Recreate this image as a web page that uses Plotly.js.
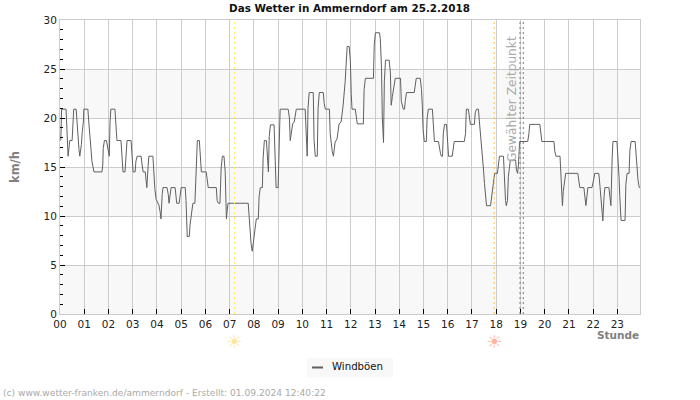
<!DOCTYPE html>
<html><head><meta charset="utf-8">
<script src="https://cdn.plot.ly/plotly-3.0.1.min.js"></script>
<style>html,body{margin:0;padding:0;background:#fff}</style></head>
<body><div id="chart" style="width:700px;height:400px"></div>
<script>
const chartTitle = 'Das Wetter in Ammerndorf am 25.2.2018';
const seriesName = 'Windböen';
const hourLabels = ['00','01','02','03','04','05','06','07','08','09','10','11','12','13','14','15','16','17','18','19','20','21','22','23'];
const sunriseMinute = 432, sunsetMinute = 1075, selectedMinutes = [1139, 1147];
const minutes = [2,4,15,16,19,20,23,24,30,32,34,40,42,44,47,49,53,55,58,59,69,72,74,77,79,81,84,104,106,107,110,115,117,120,122,124,126,136,139,141,151,154,156,161,164,166,176,178,181,186,188,191,201,203,206,211,213,215,218,220,230,233,235,238,243,245,248,250,253,255,265,268,270,273,275,285,
286,289,295,300,310,312,315,320,322,325,327,329,334,335,338,340,345,348,350,362,364,367,387,389,392,396,399,402,406,409,411,412,414,416,466,468,471,473,476,478,481,483,486,491,493,496,501,503,506,511,513,516,518,521,530,533,535,540,543,545,565,568,570,573,575,
576,580,582,585,607,608,610,612,614,617,627,629,632,637,639,642,652,654,657,667,669,672,674,677,679,681,686,689,691,696,699,701,706,709,711,716,719,721,723,731,734,736,751,753,756,776,778,781,791,793,796,798,801,803,806,815,818,820,823,825,828,830,843,845,850,853,855,858,
877,880,882,892,895,897,899,902,907,909,912,922,924,927,937,939,942,944,947,949,952,957,959,962,971,974,976,1001,1004,1006,1011,1014,1016,1026,1028,1031,1036,1038,1041,1046,1048,1051,1053,1056,1066,1068,1071,1073,1076,1083,1086,1088,1098,1100,1103,1105,1108,1110,1113,1115,1128,1130,1133,1135,1138,
1140,1158,1161,1163,1188,1190,1193,1223,1225,1228,1238,1240,1243,1244,1246,1250,1252,1282,1285,1287,1297,1300,1302,1305,1307,1317,1319,1322,1324,1334,1337,1339,1342,1344,1347,1349,1359,1362,1364,1367,1369,1379,1381,1384,1386,1389,1399,1401,1404,1409,1411,1414,1424,1426,1429,1431,1434,1436];
const gusts = [17.7,20.9,20.9,19.7,17.7,16.1,17.2,17.7,17.7,19,20.9,20.9,19.7,17.7,16.8,16.1,17.3,18.5,19.7,20.9,20.9,19.2,17.7,16.7,15.6,15,14.5,14.5,15.3,16.9,17.7,17.7,17.1,16.5,16.1,19.7,20.9,20.9,18.5,17.7,17.7,16,14.5,14.5,16.9,17.7,17.7,16,14.5,14.5,15.6,16.1,16.1,15.3,14.5,14.5,13.8,12.9,15,16.1,16.1,13.8,12.7,11.7,11.3,11.1,10.4,9.7,12.2,12.9,12.9,12.2,11.3,12.2,12.9,12.9,
12.5,11.3,11.3,12.9,12.9,11.6,7.9,7.9,9.1,9.9,10.8,11.3,11.3,12.7,15.9,17.7,17.7,15.9,14.5,14.5,13.7,12.9,12.9,11.6,11.3,11.3,14.9,16.1,16.1,14.5,11.3,9.7,10.6,11.3,11.3,9.9,8.75,7.2,6.4,7.2,8.2,9.1,9.7,9.7,12,12.9,12.9,16,17.7,17.7,16,14.5,18.1,19.3,19.3,14.9,12.9,12.9,19,20.9,20.9,20,17.7,18.4,19,
19.4,19.6,20.3,20.9,20.9,19.6,17.8,16.1,21,22.6,22.6,17.8,16.1,16.1,21,22.6,22.6,21.5,20.9,20.9,18.4,17.25,16.6,16.1,17.1,17.5,17.9,18.95,19.4,19.6,20.5,21.3,23.7,26.1,27.3,27.3,25.75,22.5,20.9,20.9,20,19.4,19.4,22.9,24.05,24.05,27.45,28.7,28.7,28.1,25.1,20.1,17.5,23.7,25.9,25.9,24.6,21.3,22.2,22.9,23.6,24.05,24.05,21.7,20.9,20.9,21.8,22.6,
22.6,23.4,24.05,24.05,22.9,21.3,18.8,17.6,17.6,20,20.9,20.9,19.1,17.6,17.6,16.9,16.4,16.1,16.1,18.4,19.35,19.35,17.6,16.1,16.1,16.9,17.6,17.6,18.4,20.9,20.9,20,19.35,19.35,20.5,20.9,20.9,19.8,18.4,16.7,15,13.3,12.3,11.05,11.05,11.8,12.8,13.7,14.35,14.35,15.7,16.1,16.1,13.7,11.6,11.05,11.6,14,15,15.7,15.7,14.7,14.35,15.2,17.6,
17.6,17.6,18.44,19.35,19.35,18.27,17.6,17.6,16.6,16.1,16.1,14.4,12.3,11.06,12.5,13.85,14.35,14.35,13.7,12.9,12.9,11.8,11.06,12.15,12.9,12.9,13.5,13.85,14.35,14.35,13,11.9,10.6,9.5,12,12.9,12.9,11.9,11.06,15.9,17.6,17.6,16.4,14,12,9.55,9.55,13.2,14.35,14.35,16.7,17.6,17.6,16.4,15.4,13.7,12.9,12.9];

const FONT = '"DejaVu Sans", sans-serif';
const GRID = '#cccccc';
const bands = [[0,5],[10,15],[20,25]];
const hourTicks = hourLabels.map((_, i) => i * 60);
const vline = (x, color) => ({type:'line', xref:'x', yref:'y', x0:x, x1:x, y0:0, y1:30,
  line:{color, width:1, dash:'2px,3px'}, layer:'above'});
const shapes = [
  ...bands.map(b => ({type:'rect', xref:'paper', yref:'y', x0:0, x1:1, y0:b[0], y1:b[1],
    fillcolor:'#f8f8f8', line:{width:0}, layer:'below'})),
  vline(sunriseMinute, '#ffee55'), vline(sunsetMinute, '#ffc04d'),
  ...selectedMinutes.map(m => vline(m, '#777777')),
  {type:'rect', xref:'paper', yref:'paper', x0:(307-60)/580, x1:(393-60)/580, y0:(314-377)/294, y1:(314-358)/294,
    fillcolor:'#f8f8f8', line:{width:0}, layer:'above'},
  {type:'line', xref:'paper', yref:'paper', x0:(312-60)/580, x1:(323-60)/580, y0:(314-367.5)/294, y1:(314-367.5)/294,
    line:{color:'#606060', width:2}, layer:'above'}
];
const px = x => (x-60)/580, py = y => (314-y)/294;
const note = (text, x, y, size, color, extra) => Object.assign({text, xref:'paper', yref:'paper', x:px(x), y:py(y),
  showarrow:false, font:{family:FONT, size, color}, xanchor:'left', yanchor:'middle'}, extra||{});
const annotations = [
  note('<b>Stunde</b>', 641, 334.5, 10.5, '#808080', {xanchor:'right'}),
  note('Gewählter Zeitpunkt', 511.5, 99.5, 12.2, '#aaaaaa', {textangle:-90, xanchor:'center'}),
  note('☀', 234, 341, 18, '#fde79a', {xanchor:'center'}),
  note('☀', 493.5, 341, 18, '#ffb4a0', {xanchor:'center'}),
  note(seriesName, 330, 366, 10.2, '#111111'),
  note('(c) www.wetter-franken.de/ammerndorf - Erstellt: 01.09.2024 12:40:22', 1, 393, 9.1, '#aaaaaa')
];
Plotly.newPlot('chart', [{
  type:'scatter', mode:'lines', name:seriesName, x:minutes, y:gusts,
  line:{color:'#606060', width:1, shape:'linear'}, hoverinfo:'x+y'
}], {
  width:700, height:400, showlegend:false,
  margin:{l:60, r:60, t:20, b:86, pad:0},
  paper_bgcolor:'#fff', plot_bgcolor:'#fff',
  font:{family:FONT, size:10.5, color:'#222'},
  title:{text:'<b>'+chartTitle+'</b>', font:{family:FONT, size:10.4, color:'#111'}, x:349.5/700, xanchor:'center', y:1-8/400, yanchor:'middle'},
  xaxis:{range:[0,1436], tickmode:'array', tickvals:hourTicks, ticktext:hourLabels, ticks:'inside', ticklen:5, tickcolor:'#000', tickwidth:1,
    showgrid:true, gridcolor:GRID, gridwidth:1, zeroline:false, showline:true, linecolor:GRID, linewidth:1, mirror:true,
    tickfont:{family:FONT, size:10.5, color:'#222'}, fixedrange:true},
  yaxis:{range:[0,30], tickmode:'linear', tick0:0, dtick:5, ticks:'inside', ticklen:5, tickcolor:'#000', tickwidth:1,
    minor:{dtick:1, ticks:'inside', ticklen:3, tickcolor:'#000', tickwidth:1, showgrid:false},
    showgrid:true, gridcolor:GRID, gridwidth:1, zeroline:false, showline:true, linecolor:GRID, linewidth:1, mirror:true,
    tickfont:{family:FONT, size:10.5, color:'#222'}, fixedrange:true,
    title:{text:'<b>km/h</b>', font:{family:FONT, size:11.5, color:'#808080'}, standoff:21}},
  shapes, annotations
}, {displayModeBar:false});
</script></body></html>
